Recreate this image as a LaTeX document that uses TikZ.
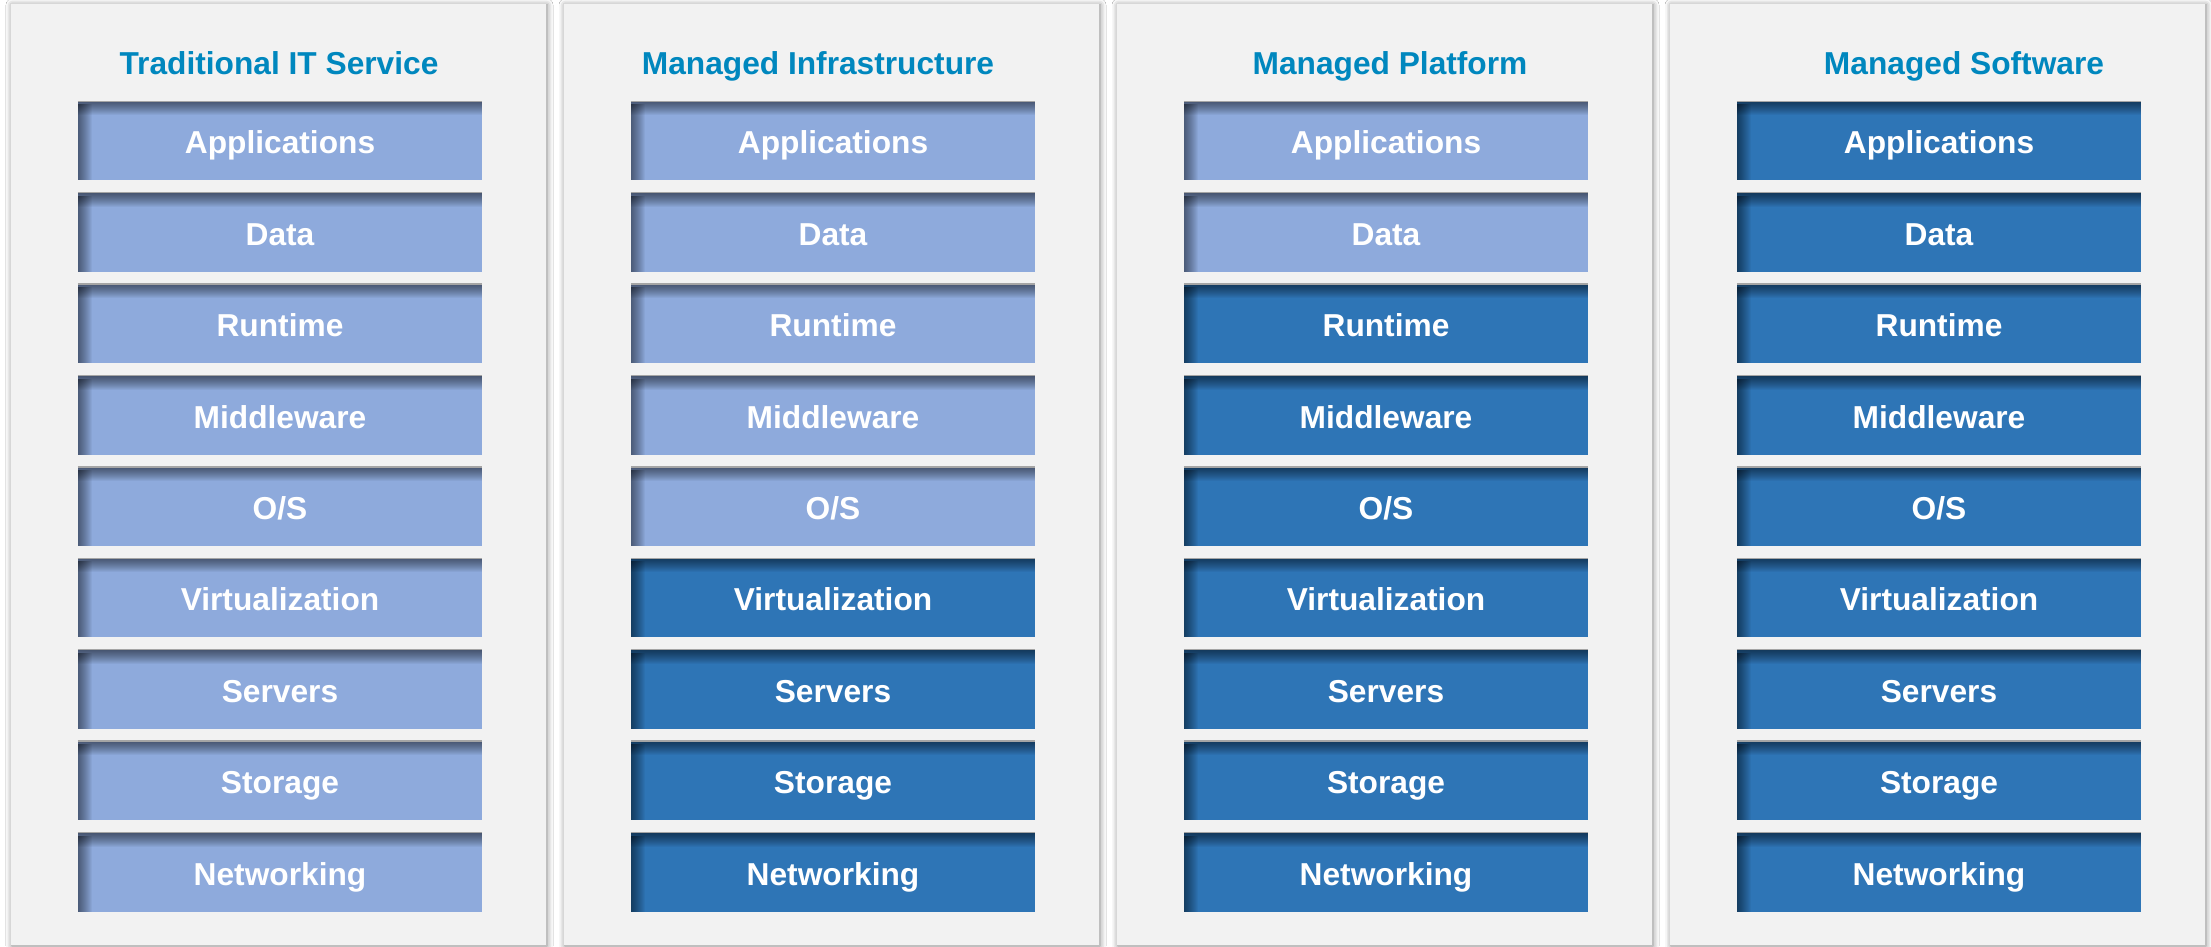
\documentclass[tikz,border=0pt]{standalone}
\usepackage{fontspec}
\setmainfont{Liberation Sans}
\usetikzlibrary{shadows.blur}
\definecolor{panelbg}{RGB}{242,242,242}
\definecolor{lightbox}{RGB}{142,170,220}
\definecolor{darkbox}{RGB}{46,117,182}
\definecolor{edgegray}{RGB}{165,165,165}
\definecolor{titleblue}{RGB}{0,135,190}
\tikzset{
  panel/.style={fill=panelbg, draw=none,
    blur shadow={shadow xshift=1pt, shadow yshift=-1pt, shadow blur radius=6pt, shadow opacity=50}},
  layer/.style={fill=#1, draw=none, minimum width=404pt, minimum height=79pt,
    inner sep=0pt, text=white, text height=27.5pt, text depth=1.8pt,
    font=\bfseries\fontsize{31.7}{36}\selectfont,
    path picture={
      \foreach \k in {1,...,14} {
        \fill[black, opacity=0.045]
          (path picture bounding box.north west) rectangle ([yshift=-\k pt]path picture bounding box.north east);
        \fill[black, opacity=0.04]
          ([yshift=-3pt]path picture bounding box.north west) rectangle ([xshift=\k pt]path picture bounding box.south west);
      }
    }},
  light/.style={layer=lightbox},
  dark/.style={layer=darkbox},
  coltitle/.style={text=titleblue, inner sep=0pt, text height=27pt, text depth=2.3pt,
    font=\bfseries\fontsize{31.7}{36}\selectfont}
}
\begin{document}
\begin{tikzpicture}[x=1pt,y=1pt]
\useasboundingbox (0,0) rectangle (2211,947);
\fill[white] (0,0) rectangle (2211,947);
% panels
\foreach \c in {1,2,3,4} {
  \path[panel] ({11+553*(\c-1)},2) rectangle ({546+553*(\c-1)},943);
}
% titles
\node[coltitle] (t1) at (279,885) {Traditional IT Service};
\node[coltitle] (t2) at (818,885) {Managed Infrastructure};
\node[coltitle] (t3) at (1390,885) {Managed Platform};
\node[coltitle] (t4) at (1964,885) {Managed Software};
% layers
\foreach \lbl [count=\r] in {Applications,Data,Runtime,Middleware,O/S,Virtualization,Servers,Storage,Networking} {
  \foreach \c/\s in {1/10,2/6,3/3,4/1} {
    \ifnum\r<\s\relax \tikzset{cur/.style={light}}\else\tikzset{cur/.style={dark}}\fi
    \node[cur] (c\c r\r) at ({280+553*(\c-1)}, {806-91.4*(\r-1)}) {\lbl};
    \draw[edgegray, line width=1.5pt] (c\c r\r.north west) -- (c\c r\r.north east);
  }
}
\end{tikzpicture}
\end{document}
